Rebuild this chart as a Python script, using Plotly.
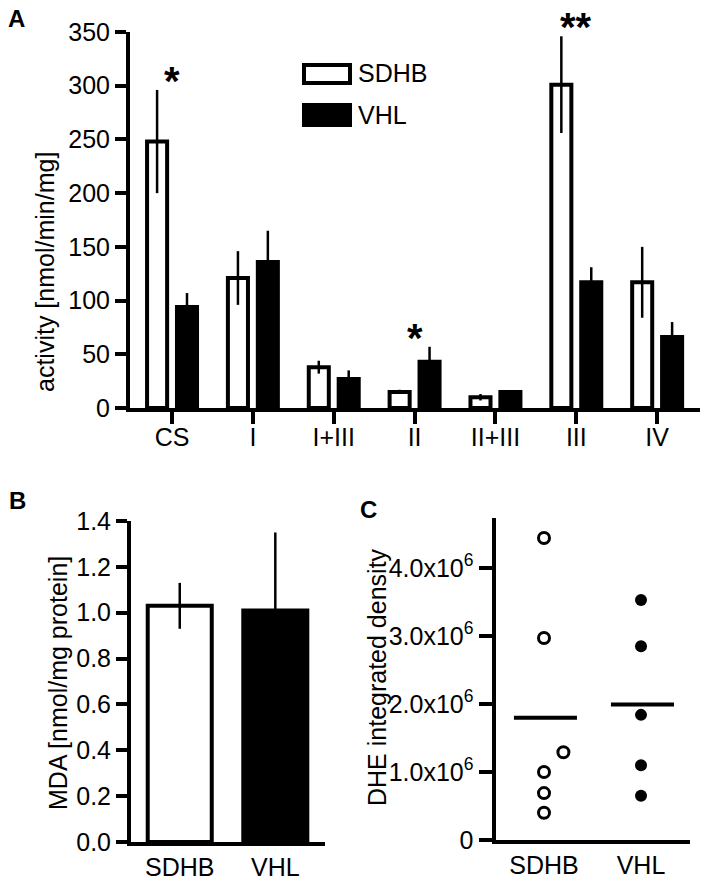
import plotly.graph_objects as go

# ---------------- data ----------------
categories = ["CS", "I", "I+III", "II", "II+III", "III", "IV"]
sdhb_activity = [248, 121, 38, 15, 10, 301, 117]
sdhb_activity_err = [48, 25, 6, 2, 3, 45, 33]
vhl_activity = [94, 136, 27, 43, 15, 117, 66]
vhl_activity_err = [13, 29, 8, 14, 1, 14, 14]
significance = ["*", "", "", "*", "", "**", ""]
activity_ticks = [0, 50, 100, 150, 200, 250, 300, 350]

groups = ["SDHB", "VHL"]
mda = [1.03, 1.01]
mda_err = [0.10, 0.34]
mda_ticks = [0.0, 0.2, 0.4, 0.6, 0.8, 1.0, 1.2, 1.4]

dhe_sdhb = [4.44e6, 2.97e6, 1.29e6, 1.00e6, 0.69e6, 0.40e6]
dhe_sdhb_jitter = [0, 0, 0.2, 0, 0, 0]
dhe_vhl = [3.53e6, 2.85e6, 1.84e6, 1.10e6, 0.65e6]
dhe_ticks = [0, 1e6, 2e6, 3e6, 4e6]
dhe_ticktext = ["0", "1.0x10<sup>6</sup>", "2.0x10<sup>6</sup>", "3.0x10<sup>6</sup>", "4.0x10<sup>6</sup>"]

FONT = "Liberation Sans, Arial, Helvetica, sans-serif"
W, H = 707, 882


def px(x):
    return x / W


def py(y):
    return 1 - y / H


fig = go.Figure()

# ---------------- panel A ----------------
fig.add_trace(go.Bar(
    x=categories, y=sdhb_activity, name="SDHB",
    marker=dict(color="white", line=dict(color="black", width=4)),
    error_y=dict(type="data", array=sdhb_activity_err, color="black", thickness=2.5, width=0),
    xaxis="x", yaxis="y", showlegend=False,
))
fig.add_trace(go.Bar(
    x=categories, y=vhl_activity, name="VHL",
    marker=dict(color="black", line=dict(color="black", width=4)),
    error_y=dict(type="data", array=vhl_activity_err, color="black", thickness=2.5, width=0),
    xaxis="x", yaxis="y", showlegend=False,
))

# ---------------- panel B ----------------
fig.add_trace(go.Bar(
    x=groups, y=mda, width=0.67,
    marker=dict(color=["white", "black"], line=dict(color="black", width=4)),
    error_y=dict(type="data", array=mda_err, color="black", thickness=2.5, width=0),
    xaxis="x2", yaxis="y2", showlegend=False,
))

# ---------------- panel C ----------------
fig.add_trace(go.Scatter(
    x=list(dhe_sdhb_jitter), y=dhe_sdhb, mode="markers",
    marker=dict(symbol="circle-open", size=11, color="black", line=dict(width=3, color="black")),
    xaxis="x3", yaxis="y3", showlegend=False,
))
fig.add_trace(go.Scatter(
    x=[1] * len(dhe_vhl), y=dhe_vhl, mode="markers",
    marker=dict(symbol="circle", size=12, color="black"),
    xaxis="x3", yaxis="y3", showlegend=False,
))
for i, vals in enumerate([dhe_sdhb, dhe_vhl]):
    m = sum(vals) / len(vals)
    fig.add_trace(go.Scatter(
        x=[i - 0.31, i + 0.34], y=[m, m], mode="lines",
        line=dict(color="black", width=4),
        xaxis="x3", yaxis="y3", showlegend=False,
    ))

axis_common = dict(showline=True, linecolor="black", linewidth=4, ticks="outside",
                   tickcolor="black", tickwidth=4, showgrid=False, zeroline=False,
                   automargin=False,
                   tickfont=dict(family=FONT, size=25, color="black"))

fig.update_layout(
    width=W, height=H,
    margin=dict(l=0, r=0, t=0, b=0, pad=0, autoexpand=False),
    paper_bgcolor="white", plot_bgcolor="white",
    barmode="group", bargap=0.26, bargroupgap=0.33,
    font=dict(family=FONT, color="black"),
    xaxis=dict(axis_common, domain=[px(130), px(700)], anchor="y",
               range=[-0.52, 6.53], ticklen=12, type="category", ticklabelstandoff=-8),
    yaxis=dict(axis_common, domain=[py(408), py(32)], anchor="x",
               range=[0, 350], tickvals=activity_ticks, ticklen=11),
    xaxis2=dict(axis_common, domain=[px(131), px(325)], anchor="y2",
                range=[-0.51, 1.52], ticks="", type="category"),
    yaxis2=dict(axis_common, domain=[py(842), py(521)], anchor="x2",
                range=[0, 1.4], tickvals=mda_ticks, tickformat=".1f", ticklen=11),
    xaxis3=dict(axis_common, domain=[px(495.5), px(690)], anchor="y3",
                range=[-0.5, 1.505], ticks="", tickvals=[0, 1], ticktext=groups),
    yaxis3=dict(axis_common, domain=[py(840), py(518)], anchor="x3",
                range=[0, 4.735e6], tickvals=dhe_ticks, ticktext=dhe_ticktext, ticklen=13),
)

ann = []
# significance stars
for c, s, a, ea, b, eb in zip(categories, significance, sdhb_activity, sdhb_activity_err,
                               vhl_activity, vhl_activity_err):
    if s:
        top = max(a + ea, b + eb)
        ann.append(dict(x=c, y=top, xref="x", yref="y", text="<b>%s</b>" % s, showarrow=False,
                        xanchor="center", yanchor="bottom", yshift=-15,
                        font=dict(family=FONT, size=40, color="black")))
# axis titles
for text, x, y in [("activity [nmol/min/mg]", 45, 272),
                   ("MDA [nmol/mg protein]", 58, 683),
                   ("DHE integrated density", 377, 677)]:
    ann.append(dict(x=px(x), y=py(y), xref="paper", yref="paper", text=text,
                    xanchor="center", yanchor="middle",
                    textangle=-90, showarrow=False, font=dict(family=FONT, size=25, color="black")))
# panel letters
for letter, x, y in [("A", 16, 18), ("B", 17, 500), ("C", 368, 509)]:
    ann.append(dict(x=px(x), y=py(y), xref="paper", yref="paper", text="<b>%s</b>" % letter,
                    xanchor="center", yanchor="middle",
                    showarrow=False, font=dict(family=FONT, size=24, color="black")))
# legend (panel A)
for text, y in [("SDHB", 73), ("VHL", 115)]:
    ann.append(dict(x=px(356), y=py(y), xref="paper", yref="paper", text=text,
                    xanchor="left", yanchor="middle",
                    showarrow=False, font=dict(family=FONT, size=25, color="black")))
fig.update_layout(annotations=ann)

fig.add_shape(type="rect", xref="paper", yref="paper", x0=px(304), x1=px(350), y0=py(83), y1=py(65),
              line=dict(color="black", width=4), fillcolor="white")
fig.add_shape(type="rect", xref="paper", yref="paper", x0=px(302), x1=px(352), y0=py(127), y1=py(103),
              line=dict(color="black", width=0), fillcolor="black")

fig.write_html("out.html", config={"displayModeBar": False},
               post_script="document.body.style.margin='0';document.body.style.padding='0';")
